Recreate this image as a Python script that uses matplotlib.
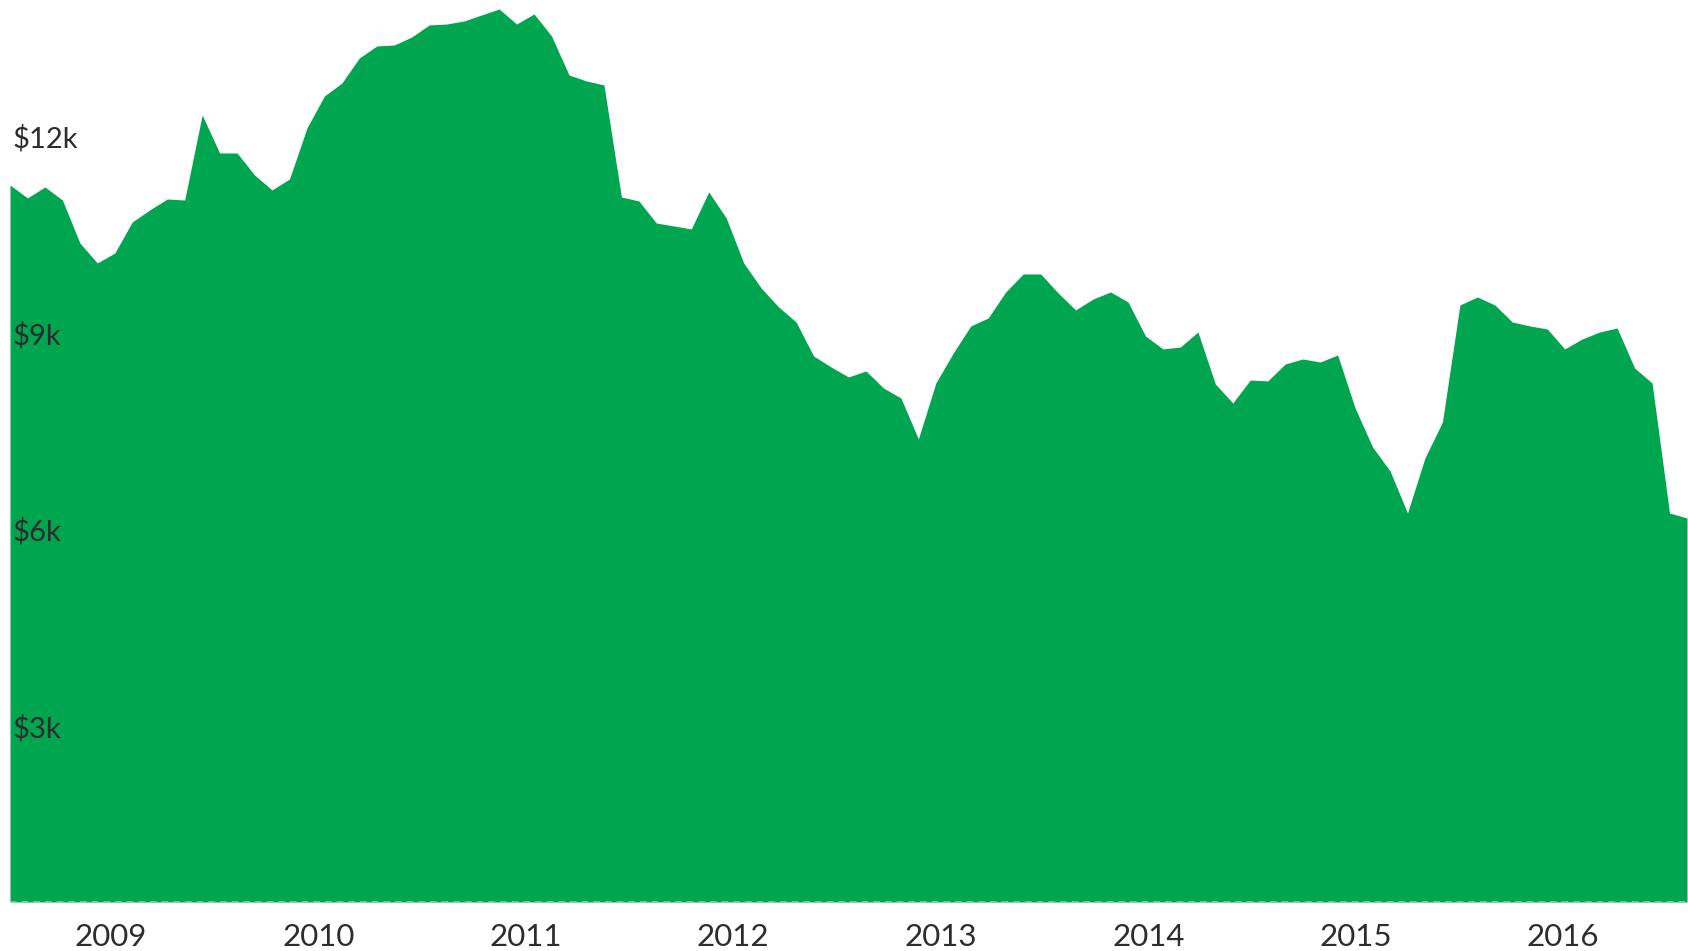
import matplotlib
matplotlib.use("Agg")
import matplotlib.pyplot as plt
import matplotlib.transforms as mtransforms
import pandas as pd

# ---- data ----
start_date = "2008-07-07"
end_date = "2016-08-06"
values_k = [
    10.935, 10.737, 10.904, 10.706, 10.050, 9.745, 9.898, 10.371, 10.554, 10.721,
    10.706, 12.002, 11.423, 11.423, 11.087, 10.859, 11.026, 11.804, 12.292, 12.490,
    12.872, 13.055, 13.070, 13.192, 13.375, 13.390, 13.436, 13.528, 13.619, 13.390,
    13.543, 13.207, 12.613, 12.521, 12.460, 10.752, 10.691, 10.355, 10.310, 10.264,
    10.828, 10.432, 9.745, 9.364, 9.074, 8.845, 8.327, 8.159, 8.007, 8.098,
    7.839, 7.686, 7.061, 7.915, 8.373, 8.785, 8.907, 9.303, 9.578, 9.578,
    9.288, 9.029, 9.196, 9.303, 9.151, 8.632, 8.434, 8.464, 8.693, 7.900,
    7.610, 7.961, 7.946, 8.205, 8.281, 8.235, 8.342, 7.534, 6.939, 6.573,
    5.933, 6.771, 7.320, 9.105, 9.227, 9.105, 8.845, 8.785, 8.739, 8.434,
    8.586, 8.693, 8.754, 8.144, 7.915, 5.933, 5.856,
]
values = [v * 1000 for v in values_k]
dates = pd.date_range(start_date, end_date, periods=len(values))

y_ticks = [3000, 6000, 9000, 12000]
y_tick_labels = ["$3k", "$6k", "$9k", "$12k"]
year_ticks = [2009, 2010, 2011, 2012, 2013, 2014, 2015, 2016]

# ---- style ----
GREEN = "#00a54f"
TEXT = "#2d2d2d"
plt.rcParams["font.family"] = ["Lato", "DejaVu Sans"]

W, H, DPI = 1688, 951, 100
fig = plt.figure(figsize=(W / DPI, H / DPI), dpi=DPI)
left_px, right_px, bottom_px, top_px = 10, 1687, 902, 0
ax = fig.add_axes([left_px / W, (H - bottom_px) / H,
                   (right_px - left_px) / W, (bottom_px - top_px) / H])

ax.fill_between(dates, values, 0, color=GREEN, linewidth=0)
ax.axhline(0, color="#7fd3a5", lw=1.2, ls=(0, (4, 3)), zorder=3)

ax.set_xlim(dates[0], dates[-1])
ax.set_ylim(0, 13756)

for s in ax.spines.values():
    s.set_visible(False)
ax.set_yticks([])
ax.set_xticks([pd.Timestamp(f"{y}-01-01") for y in year_ticks])
ax.set_xticklabels([str(y) for y in year_ticks])
ax.tick_params(axis="x", length=0, pad=15, labelsize=22.5, labelcolor=TEXT)

trans = mtransforms.blended_transform_factory(ax.transAxes, ax.transData)
trans = mtransforms.offset_copy(trans, fig=fig, x=2, y=-7, units="points")
for v, lab in zip(y_ticks, y_tick_labels):
    ax.text(0, v, lab, transform=trans, ha="left", va="top",
            fontsize=21, color=TEXT, zorder=4)

fig.savefig("out.png", dpi=DPI, facecolor="white")
